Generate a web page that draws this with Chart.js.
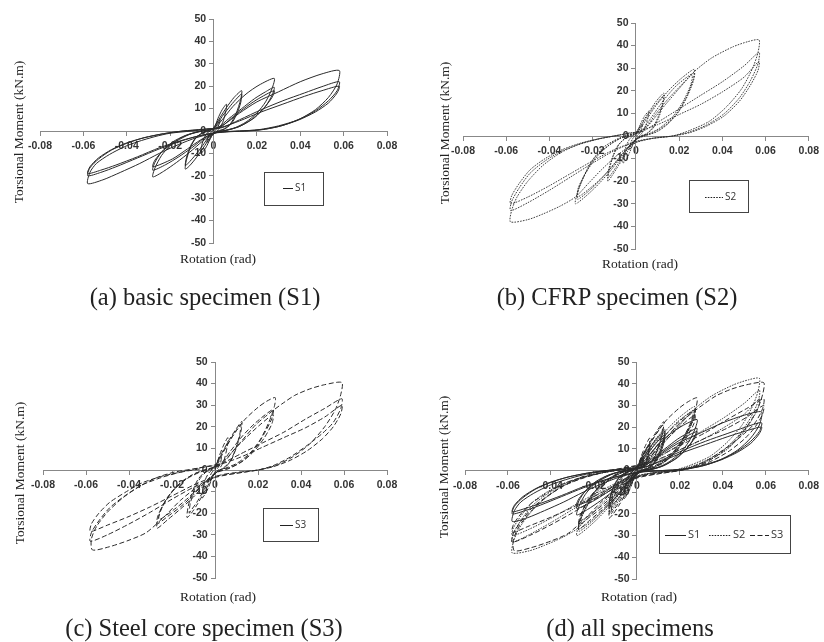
<!DOCTYPE html>
<html>
<head>
<meta charset="utf-8">
<script src="https://cdn.jsdelivr.net/npm/chart.js@4.4.0/dist/chart.umd.min.js"></script>
<style>
  body { margin: 0; background: #fff; }
  #page { position: relative; width: 824px; height: 642px; overflow: hidden; }
  canvas { position: absolute; }
  .txt { position: absolute; font-family: "Liberation Serif", "Times New Roman", serif; color: #222; white-space: nowrap; }
  .ytitle { font-size: 13.5px; transform: translate(-50%, -50%) rotate(-90deg); }
  .xtitle { font-size: 13.5px; transform: translate(-50%, -50%); }
  .cap { font-size: 24.5px; transform: translate(-50%, -50%); }
</style>
</head>
<body>
<div id="page">
  <canvas id="pa" width="412" height="280" style="left:0;top:0"></canvas>
  <canvas id="pb" width="412" height="280" style="left:412px;top:0"></canvas>
  <canvas id="pc" width="412" height="322" style="left:0;top:320px"></canvas>
  <canvas id="pd" width="412" height="322" style="left:412px;top:320px"></canvas>

  <div class="txt ytitle" style="left:19px;top:132px">Torsional Moment (kN.m)</div>
  <div class="txt xtitle" style="left:218px;top:259px">Rotation (rad)</div>
  <div class="txt cap" style="left:205px;top:297px">(a) basic specimen (S1)</div>

  <div class="txt ytitle" style="left:445px;top:133px">Torsional Moment (kN.m)</div>
  <div class="txt xtitle" style="left:640px;top:264px">Rotation (rad)</div>
  <div class="txt cap" style="left:617px;top:297px">(b) CFRP specimen (S2)</div>

  <div class="txt ytitle" style="left:20px;top:473px">Torsional Moment (kN.m)</div>
  <div class="txt xtitle" style="left:218px;top:597px">Rotation (rad)</div>
  <div class="txt cap" style="left:204px;top:628px">(c) Steel core specimen (S3)</div>

  <div class="txt ytitle" style="left:444px;top:467px">Torsional Moment (kN.m)</div>
  <div class="txt xtitle" style="left:639px;top:597px">Rotation (rad)</div>
  <div class="txt cap" style="left:630px;top:628px">(d) all specimens</div>
</div>
<script>
// tick labels
const rotTicks = [-0.08, -0.06, -0.04, -0.02, 0, 0.02, 0.04, 0.06, 0.08];
const momTicks = [-50, -40, -30, -20, -10, 0, 10, 20, 30, 40, 50];

// [rotation (rad), torsional moment (kN.m)]
const s1 = [
  [0,0],[0.001,2.5],[0.002,4.2],[0.003,5],[0.0026,3],[0.0015,1],[0.0005,0],[-0.001,-2.5],[-0.002,-4.2],[-0.003,-5],[-0.0026,-3],[-0.0015,-1],[-0.0005,0],
  [0.0005,1.5],[0.002,5.5],[0.004,9.5],[0.006,12],[0.0057,9],[0.0045,4.5],[0.003,1.5],[0.0015,0],[-0.001,-2.5],[-0.003,-6.5],[-0.0045,-8.8],[-0.006,-10],[-0.0057,-7.5],[-0.0045,-3.5],[-0.003,-1],[-0.0015,0],
  [0,1.5],[0.003,6],[0.006,10.5],[0.0095,15],[0.013,18],[0.0125,14],[0.0105,8],[0.008,3.5],[0.005,1],[0.002,0],[-0.001,-2],[-0.004,-6.5],[-0.008,-12],[-0.011,-15.5],[-0.013,-17],[-0.0125,-13],[-0.0105,-7],[-0.008,-3],[-0.005,-0.8],[-0.002,0],
  [0.001,2],[0.004,6.5],[0.008,11.5],[0.011,14.8],[0.013,16.5],[0.0125,12.5],[0.0105,7],[0.008,3],[0.005,0.8],[0.002,-0.3],[-0.002,-2.5],[-0.005,-6.5],[-0.009,-11.5],[-0.0115,-14.2],[-0.013,-15.5],[-0.0125,-12],[-0.0105,-6.5],[-0.008,-2.8],[-0.004,-0.3],
  [0,1],[0.004,5],[0.009,11],[0.015,16.5],[0.021,20.5],[0.028,23.5],[0.027,19],[0.024,13],[0.02,8],[0.015,4],[0.01,1.5],[0.004,0],[0,-1],[-0.005,-4.5],[-0.011,-9.5],[-0.017,-14],[-0.023,-18],[-0.028,-20.5],[-0.027,-16.5],[-0.024,-11],[-0.02,-6.5],[-0.015,-3],[-0.009,-0.8],[-0.003,0.5],
  [0.002,1.5],[0.007,5.5],[0.013,10],[0.019,14.5],[0.024,17.5],[0.028,19.5],[0.027,16],[0.024,11],[0.019,6],[0.013,2.5],[0.007,0.5],[0.001,-0.5],[-0.004,-3],[-0.01,-7.5],[-0.016,-11.5],[-0.022,-15],[-0.028,-17.5],[-0.027,-14],[-0.024,-9.5],[-0.019,-5],[-0.013,-2],[-0.007,-0.3],[-0.002,0.5],
  [0.003,1.5],[0.008,5.5],[0.014,10],[0.02,14],[0.028,18],[0.027,15],[0.023,10],[0.018,5.5],[0.012,2],[0.006,0.3],[0,-1],[-0.006,-4],[-0.012,-8],[-0.019,-12.5],[-0.028,-16],[-0.027,-13],[-0.023,-8.5],[-0.017,-4.5],[-0.011,-1.5],[-0.005,0],[0,1],
  [0.005,3],[0.012,8],[0.02,13],[0.03,17.5],[0.04,22],[0.05,25.5],[0.058,27],[0.057,21],[0.053,15],[0.047,9.5],[0.04,5.5],[0.032,2.5],[0.024,0.8],[0.016,0],[0.008,-0.3],[0,-1],[-0.008,-3],[-0.016,-6],[-0.025,-10],[-0.034,-14.5],[-0.043,-18.5],[-0.051,-21.8],[-0.058,-23.5],[-0.057,-18.5],[-0.054,-14.5],[-0.048,-10.5],[-0.041,-7],[-0.035,-4.8],[-0.027,-2.5],[-0.02,-1],[-0.01,0],[-0.002,1],
  [0.004,1.5],[0.012,5],[0.022,9.5],[0.032,13.5],[0.042,17],[0.05,19.8],[0.058,22],[0.057,18],[0.053,13.5],[0.047,9],[0.039,5],[0.03,2.3],[0.021,0.6],[0.012,0],[0.003,-0.5],[-0.006,-2],[-0.015,-4.5],[-0.025,-8],[-0.035,-12],[-0.045,-16],[-0.052,-18.5],[-0.058,-20],[-0.057,-16.5],[-0.053,-12.5],[-0.047,-8.5],[-0.04,-5.5],[-0.032,-3],[-0.023,-1.2],[-0.014,0],[-0.005,0.8],
  [0.003,1.5],[0.012,4.5],[0.022,8.5],[0.032,12],[0.042,15.5],[0.05,18],[0.058,20],[0.057,17],[0.053,12.5],[0.047,8.5],[0.039,4.8],[0.03,2],[0.021,0.5],[0.012,0],[0.003,-0.5],[-0.006,-2],[-0.015,-4.3],[-0.025,-7.5],[-0.035,-11.5],[-0.045,-15.2],[-0.052,-17.5],[-0.058,-19],[-0.057,-16],[-0.053,-12],[-0.047,-8.3],[-0.04,-5.3],[-0.032,-3],[-0.023,-1.2],[-0.014,0],[-0.005,0.5]
];

const s2 = [
  [0,0],[0.001,2.5],[0.002,4.2],[0.003,5],[0.0026,3],[0.0015,1],[0.0005,0],[-0.001,-3],[-0.002,-5],[-0.003,-6],[-0.0026,-3.5],[-0.0015,-1.2],[-0.0005,0],
  [0.0005,1.5],[0.002,5],[0.004,8.8],[0.006,11],[0.0057,8.5],[0.0045,4.5],[0.003,1.5],[0.0015,0],[-0.001,-3],[-0.003,-7.5],[-0.0045,-10.5],[-0.006,-12],[-0.0057,-9],[-0.0045,-4.5],[-0.003,-1.5],[-0.0015,0],
  [0,1.5],[0.003,6],[0.006,10.5],[0.0095,15.5],[0.013,19],[0.0125,15],[0.0105,9],[0.008,4],[0.005,1],[0.002,0],[-0.001,-2.5],[-0.004,-7],[-0.008,-13],[-0.011,-17.5],[-0.013,-20],[-0.0125,-15.5],[-0.0105,-9],[-0.008,-4],[-0.005,-1],[-0.002,0],
  [0.001,2],[0.004,7],[0.008,12.5],[0.011,16],[0.013,18],[0.0125,14],[0.0105,8],[0.008,3.5],[0.005,1],[0.002,-0.3],[-0.002,-3],[-0.005,-7.5],[-0.009,-13.5],[-0.0115,-17],[-0.013,-18.5],[-0.0125,-14.5],[-0.0105,-8.5],[-0.008,-3.8],[-0.004,-0.5],
  [0,1],[0.004,6],[0.009,13],[0.015,20],[0.021,25.5],[0.027,29.5],[0.0265,25],[0.024,18],[0.02,11],[0.015,5.5],[0.01,2],[0.004,0],[0,-1.5],[-0.005,-7],[-0.011,-14.5],[-0.017,-21],[-0.023,-26.5],[-0.028,-30],[-0.027,-25],[-0.024,-17.5],[-0.02,-10.5],[-0.015,-5],[-0.009,-1.5],[-0.003,0.5],
  [0.002,1.5],[0.007,8],[0.013,16],[0.019,22.5],[0.027,28],[0.0265,24],[0.023,16.5],[0.019,10],[0.014,5],[0.008,1.5],[0.002,-0.5],[-0.004,-5.5],[-0.01,-12.5],[-0.016,-19],[-0.022,-24.5],[-0.027,-28],[-0.0265,-23.5],[-0.023,-16],[-0.019,-9.5],[-0.013,-4.5],[-0.007,-1],[-0.001,0.8],
  [0.004,3],[0.009,9.5],[0.015,16.5],[0.021,22.5],[0.026,27],[0.0255,23],[0.022,15.5],[0.017,8.5],[0.011,3.5],[0.005,0.5],[0,-1.5],[-0.006,-7.5],[-0.012,-14.5],[-0.018,-20.5],[-0.027,-27],[-0.0265,-22.5],[-0.022,-14.5],[-0.017,-8],[-0.011,-3],[-0.005,0],[0,1.5],
  [0.005,4],[0.012,12],[0.02,21],[0.027,28.5],[0.035,34.5],[0.045,39.5],[0.052,41.8],[0.057,42.5],[0.0565,37],[0.054,30],[0.049,21],[0.042,13],[0.034,6.5],[0.025,2.5],[0.017,0],[0.008,-1],[0,-3],[-0.008,-8],[-0.016,-15],[-0.022,-21],[-0.028,-27],[-0.035,-31],[-0.043,-34.5],[-0.05,-37],[-0.058,-38],[-0.0575,-33],[-0.055,-27],[-0.05,-20],[-0.043,-13],[-0.035,-7.5],[-0.027,-4],[-0.018,-1.5],[-0.01,0],[-0.002,1.5],
  [0.002,1.5],[0.01,6],[0.02,12],[0.03,18],[0.04,24],[0.05,31],[0.057,37],[0.0565,32],[0.053,24.5],[0.048,17],[0.041,10],[0.033,5],[0.025,1.8],[0.017,0],[0.008,-1],[0,-2.5],[-0.01,-6.5],[-0.02,-12],[-0.03,-18],[-0.04,-24],[-0.05,-29.5],[-0.058,-33],[-0.0575,-29],[-0.054,-23],[-0.049,-16.5],[-0.042,-11],[-0.034,-6.5],[-0.025,-3.2],[-0.016,-1],[-0.007,0.5],
  [0.001,2],[0.01,5],[0.02,9.5],[0.03,14],[0.04,19.5],[0.05,26],[0.057,33],[0.0565,29],[0.053,22.5],[0.048,15.5],[0.041,9],[0.033,4.5],[0.025,1.5],[0.017,0],[0.008,-1],[0,-2.5],[-0.01,-6],[-0.02,-11],[-0.03,-16.5],[-0.04,-22],[-0.05,-27],[-0.058,-30],[-0.0575,-26.5],[-0.054,-21],[-0.049,-15],[-0.042,-10],[-0.034,-6],[-0.025,-3],[-0.016,-1],[-0.007,0.5]
];

const s3 = [
  [0,0],[0.001,3],[0.002,5],[0.003,6],[0.0026,3.5],[0.0015,1.2],[0.0005,0],[-0.001,-3],[-0.002,-5],[-0.003,-6],[-0.0026,-3.5],[-0.0015,-1.2],[-0.0005,0],
  [0.0005,2],[0.002,6.5],[0.004,11.5],[0.006,15],[0.0057,11],[0.0045,5.5],[0.003,2],[0.0015,0],[-0.001,-3],[-0.003,-8],[-0.0045,-11],[-0.006,-13],[-0.0057,-9.5],[-0.0045,-4.5],[-0.003,-1.5],[-0.0015,0],
  [0,2],[0.003,7.5],[0.006,13],[0.0095,18.5],[0.0125,22.5],[0.012,17.5],[0.01,10.5],[0.0075,4.5],[0.0045,1],[0.002,0],[-0.001,-3],[-0.004,-8.5],[-0.008,-15.5],[-0.011,-20],[-0.013,-22],[-0.0125,-17],[-0.0105,-10],[-0.008,-4.5],[-0.005,-1.2],[-0.002,0],
  [0.001,2.5],[0.004,8.5],[0.0075,14.5],[0.0105,19],[0.012,21],[0.0115,16.5],[0.0095,9.5],[0.007,4],[0.004,1],[0.0015,-0.5],[-0.002,-3.5],[-0.005,-9],[-0.0085,-15],[-0.011,-18.5],[-0.012,-20],[-0.0115,-15.5],[-0.0095,-9],[-0.007,-4],[-0.004,-0.8],
  [0,2],[0.004,9],[0.009,17],[0.014,23.5],[0.02,29],[0.024,31.8],[0.028,33.5],[0.0275,29],[0.025,22],[0.021,14],[0.016,7.5],[0.01,3],[0.004,0.5],[0,-1.5],[-0.005,-7],[-0.01,-12.5],[-0.016,-18],[-0.022,-23],[-0.027,-27],[-0.0265,-22.5],[-0.024,-16],[-0.02,-10],[-0.015,-5],[-0.009,-1.5],[-0.003,0.5],
  [0.002,2],[0.007,8.5],[0.013,16],[0.019,22],[0.027,28],[0.0265,24],[0.023,17],[0.019,10.5],[0.014,5],[0.008,1.5],[0.002,-0.5],[-0.004,-5],[-0.01,-11.5],[-0.016,-17],[-0.022,-21.5],[-0.027,-25],[-0.0265,-21],[-0.023,-14.5],[-0.019,-9],[-0.013,-4],[-0.007,-1],[-0.001,1],
  [0.004,3.5],[0.009,9.5],[0.015,15.5],[0.021,21],[0.027,25.5],[0.0265,21.5],[0.023,15],[0.018,8.5],[0.012,3.5],[0.006,0.5],[0,-1.5],[-0.006,-7],[-0.012,-12.5],[-0.018,-17.5],[-0.026,-23],[-0.0255,-19],[-0.022,-12.5],[-0.017,-7],[-0.011,-2.5],[-0.005,0],[0,1.5],
  [0.005,5],[0.012,13],[0.019,21],[0.025,26],[0.031,30.5],[0.037,34.5],[0.044,37.5],[0.051,39.5],[0.059,40.5],[0.0585,35],[0.056,28],[0.051,20],[0.044,12],[0.036,6],[0.028,2],[0.02,0],[0.011,-1],[0.002,-2.5],[-0.007,-7],[-0.016,-14],[-0.024,-22],[-0.032,-29],[-0.04,-32.5],[-0.049,-35.5],[-0.057,-37],[-0.0575,-32],[-0.055,-26],[-0.05,-19.5],[-0.043,-13],[-0.035,-7.5],[-0.027,-3.5],[-0.019,-1],[-0.01,0.5],[-0.002,2],
  [0.003,3],[0.012,7.5],[0.022,12.5],[0.032,17.5],[0.042,23.5],[0.051,28.5],[0.059,33],[0.0585,28.5],[0.055,22],[0.05,17],[0.043,11.5],[0.035,6],[0.027,2],[0.02,0],[0.01,-1.5],[0,-3.5],[-0.01,-8],[-0.02,-13.5],[-0.03,-19.5],[-0.04,-25],[-0.05,-30],[-0.058,-33],[-0.0575,-29],[-0.054,-23.5],[-0.049,-17.5],[-0.042,-12],[-0.034,-7],[-0.025,-3.5],[-0.016,-1],[-0.007,1],
  [0.002,2.5],[0.012,6],[0.022,10.5],[0.032,15],[0.042,19.5],[0.051,24.5],[0.059,30],[0.0585,26],[0.055,20],[0.05,14.5],[0.043,9],[0.035,4.5],[0.027,1.5],[0.02,0],[0.01,-1.5],[0,-3],[-0.01,-7],[-0.02,-12],[-0.03,-17],[-0.04,-21.5],[-0.05,-25.5],[-0.058,-28.5],[-0.0575,-25],[-0.054,-20],[-0.049,-15],[-0.042,-10.5],[-0.034,-6],[-0.025,-3],[-0.016,-1],[-0.007,0.5]
];

const specimens = { S1: s1, S2: s2, S3: s3 };
const lineStyle = {
  S1: { borderDash: [], borderWidth: 1 },
  S2: { borderDash: [1.6, 1.2], borderWidth: 0.9 },
  S3: { borderDash: [5, 2.5], borderWidth: 1 }
};

// boxed legend like the excel one, drawn inside the plot
const boxLegend = {
  id: 'boxLegend',
  afterDraw(chart, args, opts) {
    if (!opts.box) return;
    const ctx = chart.ctx;
    const b = opts.box;
    ctx.save();
    ctx.strokeStyle = '#444';
    ctx.lineWidth = 1;
    ctx.setLineDash([]);
    ctx.strokeRect(b[0] + 0.5, b[1] + 0.5, b[2], b[3]);
    ctx.font = opts.font;
    ctx.fillStyle = '#333';
    ctx.textBaseline = 'middle';
    opts.items.forEach(function(it) {
      ctx.strokeStyle = '#222';
      ctx.lineWidth = 1;
      ctx.setLineDash(it.dash);
      ctx.beginPath();
      ctx.moveTo(it.x0, opts.y + 0.5);
      ctx.lineTo(it.x1, opts.y + 0.5);
      ctx.stroke();
      ctx.setLineDash([]);
      ctx.fillText(it.label, it.x1 + 2, opts.y);
    });
    ctx.restore();
  }
};

const tickFont = { family: '"Liberation Sans", Arial, sans-serif', size: 10.5, weight: 'bold' };

function makePanel(id, names, pad, legend) {
  var datasets = names.map(function(n) {
    return {
      label: n,
      data: specimens[n].map(function(p) { return { x: p[0], y: p[1] }; }),
      showLine: true,
      pointRadius: 0,
      borderColor: '#2a2a2a',
      borderWidth: lineStyle[n].borderWidth,
      borderDash: lineStyle[n].borderDash,
      tension: 0.25,
      fill: false
    };
  });
  new Chart(document.getElementById(id), {
    type: 'scatter',
    data: { datasets: datasets },
    plugins: [boxLegend],
    options: {
      responsive: false,
      animation: false,
      events: [],
      layout: { padding: pad },
      plugins: {
        legend: { display: false },
        tooltip: { enabled: false },
        boxLegend: legend
      },
      scales: {
        x: {
          type: 'linear', min: -0.08, max: 0.08, position: { y: 0 },
          afterBuildTicks: function(s) { s.ticks = rotTicks.map(function(v) { return { value: v }; }); },
          ticks: {
            callback: function(v) { return Math.abs(v) < 1e-9 ? '0' : v.toFixed(2); },
            font: tickFont, color: '#333', padding: 5, maxRotation: 0, autoSkip: false
          },
          grid: { drawOnChartArea: false, tickLength: 4, color: '#888' },
          border: { color: '#888' }
        },
        y: {
          type: 'linear', min: -50, max: 50, position: { x: 0 },
          afterBuildTicks: function(s) { s.ticks = momTicks.map(function(v) { return { value: v }; }); },
          // centred axis ignores padding, so keep a gap with a trailing space
          ticks: {
            callback: function(v) { return v + '\u2002\u2009'; },
            font: tickFont, color: '#333', autoSkip: false
          },
          grid: { drawOnChartArea: false, tickLength: 4, color: '#888' },
          border: { color: '#888' }
        }
      }
    }
  });
}

var legFont = '10px "Open Sans", "Liberation Sans", sans-serif';

makePanel('pa', ['S1'], { left: 40, right: 25, top: 19, bottom: 37 },
  { box: [264, 172, 59, 33], y: 188, font: legFont, items: [{ label: 'S1', x0: 283, x1: 293, dash: [] }] });
makePanel('pb', ['S2'], { left: 51, right: 9, top: 23, bottom: 31 },
  { box: [277, 180, 59, 32], y: 197, font: legFont, items: [{ label: 'S2', x0: 293, x1: 311, dash: [1.6, 1.2] }] });
makePanel('pc', ['S3'], { left: 43, right: 25, top: 42, bottom: 64 },
  { box: [263, 188, 55, 33], y: 205, font: legFont, items: [{ label: 'S3', x0: 280, x1: 293, dash: [] }] });
makePanel('pd', ['S1', 'S2', 'S3'], { left: 53, right: 15, top: 42, bottom: 63 },
  { box: [247, 195, 131, 38], y: 215, font: '11px "Open Sans", "Liberation Sans", sans-serif', items: [
    { label: 'S1', x0: 253, x1: 274, dash: [] },
    { label: 'S2', x0: 297, x1: 319, dash: [1.6, 1.2] },
    { label: 'S3', x0: 338, x1: 357, dash: [5, 2.5] }
  ] });
</script>
</body>
</html>
